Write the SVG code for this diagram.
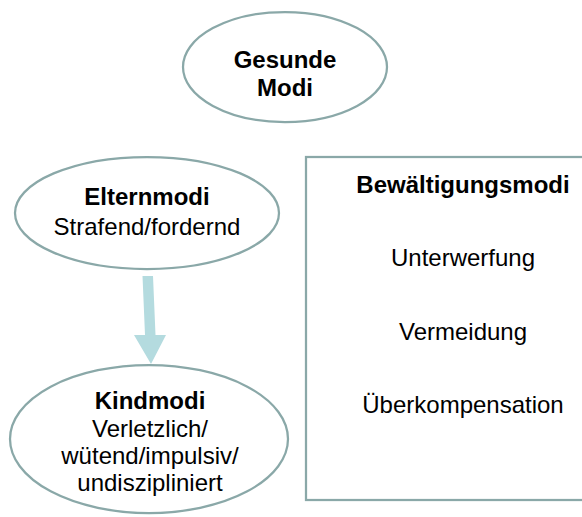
<svg xmlns="http://www.w3.org/2000/svg" width="582" height="517" viewBox="0 0 582 517">
<style>
.sh{fill:#fff;stroke:#8AA8A8;stroke-width:2.25}
.t{font-family:"Liberation Sans",Arial,sans-serif;font-size:24px;fill:#000;text-anchor:middle}
.b{font-weight:bold}
</style>
<rect width="582" height="517" fill="#fff"/>
<g id="gesunde">
<ellipse class="sh" cx="285" cy="67" rx="102" ry="55"/>
<text class="t b" x="285" y="68">Gesunde</text>
<text class="t b" x="285" y="96">Modi</text>
</g>
<g id="eltern">
<ellipse class="sh" cx="147" cy="213" rx="132" ry="56"/>
<text class="t b" x="147" y="205">Elternmodi</text>
<text class="t" x="147" y="235">Strafend/fordernd</text>
</g>
<g id="kind">
<ellipse class="sh" cx="149" cy="439" rx="139" ry="74"/>
<text class="t b" x="150" y="409">Kindmodi</text>
<text class="t" x="150" y="437">Verletzlich/</text>
<text class="t" x="150" y="464">wütend/impulsiv/</text>
<text class="t" x="150" y="491">undiszipliniert</text>
</g>
<g id="bewaeltigung">
<rect class="sh" x="306" y="157" width="290" height="343"/>
<text class="t b" x="463" y="193">Bewältigungsmodi</text>
<text class="t" x="463" y="266">Unterwerfung</text>
<text class="t" x="463" y="340">Vermeidung</text>
<text class="t" x="463" y="413">Überkompensation</text>
</g>
<g id="connectors">
<polygon points="142.5,276 153,276 155.5,335 166,335 151,364 134,335 145,335" fill="#B4DBDF"/>
</g>
</svg>
